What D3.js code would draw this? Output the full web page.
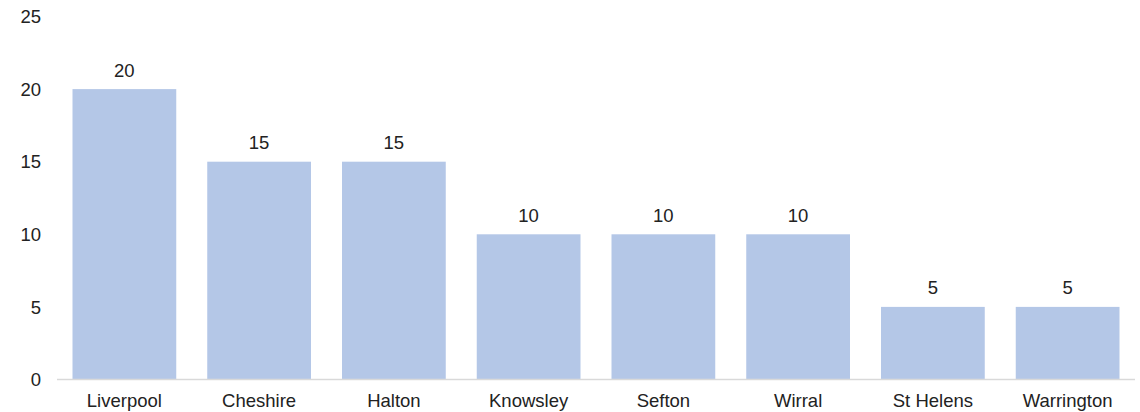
<!DOCTYPE html>
<html><head><meta charset="utf-8">
<script src="https://cdn.jsdelivr.net/npm/d3@7"></script>
<style>body{margin:0;background:#fff}svg{display:block}text{font-family:"Liberation Sans",Arial,sans-serif}</style>
</head><body><svg id="c" width="1140" height="412"></svg>
<script>
const categories = ["Liverpool","Cheshire","Halton","Knowsley","Sefton","Wirral","St Helens","Warrington"];
const values = [20,15,15,10,10,10,5,5];
const yTicks = [0,5,10,15,20,25];

const svg = d3.select("#c");
const fs = 18.5;
const x = d3.scaleBand().domain(categories).range([57,1135]).paddingInner(0.23).paddingOuter(0.115);
const y = d3.scaleLinear().domain([0,25]).range([379.5,16.5]);

svg.selectAll("rect.bar").data(values).join("rect").attr("class","bar")
  .attr("x",(d,i)=>x(categories[i])).attr("width",x.bandwidth())
  .attr("y",d=>y(d)).attr("height",d=>y(0)-y(d)).attr("fill","#b4c7e7");

svg.append("line").attr("x1",57).attr("x2",1135).attr("y1",y(0)).attr("y2",y(0))
  .attr("stroke","#d9d9d9").attr("stroke-width",1.5);

svg.selectAll("text.yt").data(yTicks).join("text").attr("class","yt")
  .attr("x",41).attr("y",d=>y(d)+6.6).attr("text-anchor","end")
  .attr("font-size",fs).attr("fill","#222").text(d=>d);

svg.selectAll("text.xl").data(categories).join("text").attr("class","xl")
  .attr("x",d=>x(d)+x.bandwidth()/2).attr("y",406.5).attr("text-anchor","middle")
  .attr("font-size",fs).attr("fill","#222").text(d=>d);

svg.selectAll("text.vl").data(values).join("text").attr("class","vl")
  .attr("x",(d,i)=>x(categories[i])+x.bandwidth()/2).attr("y",d=>y(d)-12.5).attr("text-anchor","middle")
  .attr("font-size",fs).attr("fill","#222").text(d=>d);
</script></body></html>
